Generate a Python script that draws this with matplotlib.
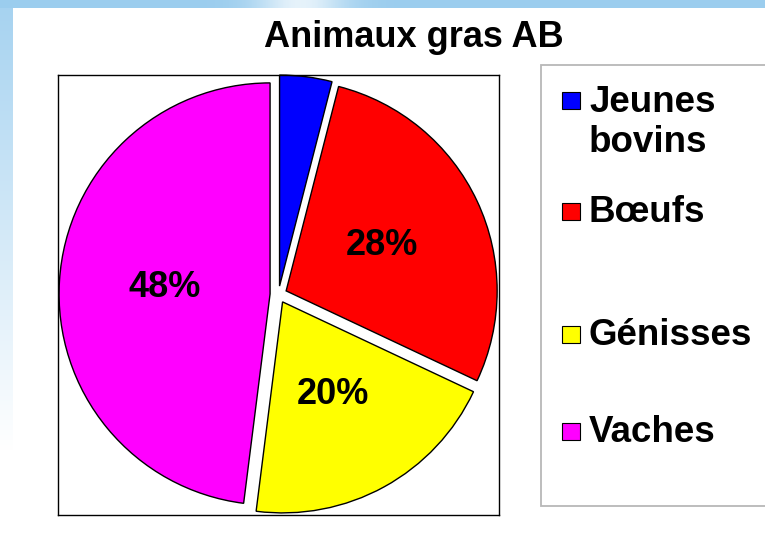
import matplotlib.pyplot as plt
import numpy as np
from matplotlib.patches import Rectangle

# data
labels = ["Jeunes\nbovins", "Bœufs", "Génisses", "Vaches"]
values = [4, 28, 20, 48]
colors = ["#0000ff", "#ff0000", "#ffff00", "#ff00ff"]
title = "Animaux gras AB"

W, H = 765, 541
FONT = "Liberation Sans"

fig = plt.figure(figsize=(W / 100, H / 100), dpi=100)

# background layer in pixel coords (sky strip on top and left, white panel)
bg = fig.add_axes([0, 0, 1, 1])
img = np.ones((H, W, 3))
sky = np.array([155, 205, 238]) / 255
xs = np.arange(W)
cloud = 0.75 * np.exp(-((xs - 300) / 45.0) ** 2)
top = sky[None, :] + (1 - sky[None, :]) * cloud[:, None]
img[:8, :, :] = top[None, :, :]
fade = np.clip(np.arange(H) / 450.0, 0, 1)
left = np.array([165, 210, 240]) / 255
strip = left[None, :] + (1 - left[None, :]) * fade[:, None]
img[8:, :13, :] = strip[8:, None, :]
bg.imshow(img, extent=(0, W, H, 0), aspect="auto", interpolation="bilinear")
bg.set_xlim(0, W)
bg.set_ylim(H, 0)
bg.axis("off")

bg.text(414, 47, title, ha="center", va="baseline", fontsize=26,
        fontweight="bold", family=FONT)

# legend box, drawn by hand to get the excel look
bg.add_patch(Rectangle((541, 65), 240, 441, facecolor="white",
                       edgecolor="#b8b8b8", lw=1.3))
legend_y = [100.5, 211, 334, 431]
for lab, col, y in zip(labels, colors, legend_y):
    bg.add_patch(Rectangle((562, y - 8.5), 18, 17, facecolor=col,
                           edgecolor="black", lw=0.8))
    for i, line in enumerate(lab.split("\n")):
        bg.text(589, y + 11 + 40 * i, line, ha="left", va="baseline",
                fontsize=26.5, fontweight="bold", family=FONT)


def pct(p):
    return "%.0f%%" % p if p >= 5 else ""


# pie inside its black frame
ax = fig.add_axes([58 / W, 1 - 515 / H, 441 / W, 440 / H])
ax.pie(values, colors=colors, startangle=90, counterclock=False,
       explode=[0.04] * len(values), autopct=pct, pctdistance=0.5,
       wedgeprops=dict(edgecolor="black", linewidth=1),
       textprops=dict(fontsize=26, fontweight="bold", family=FONT),
       frame=True)
ax.set_aspect("auto")
ax.set_xlim(-1.045, 1.045)
ax.set_ylim(-1.045, 1.04)
ax.set_xticks([])
ax.set_yticks([])
for s in ax.spines.values():
    s.set_color("black")
    s.set_linewidth(1)

fig.savefig("out.png", dpi=100)
